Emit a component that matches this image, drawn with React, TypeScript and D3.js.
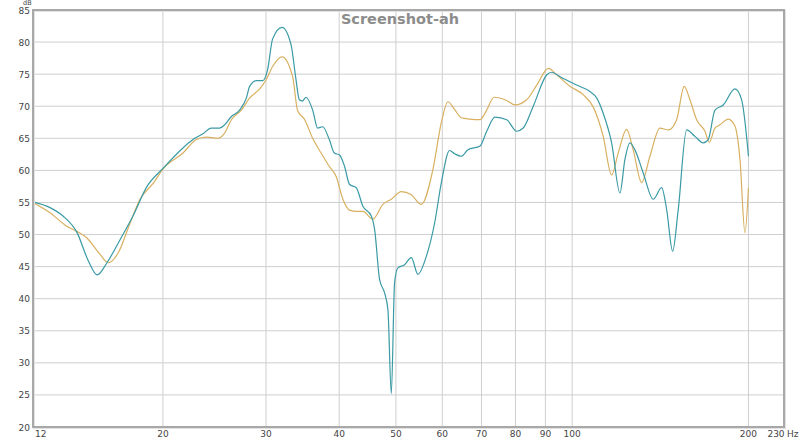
import React from "react";
import * as d3 from "d3";

const W = 800;
const H = 441;

const yTicks = [20, 25, 30, 35, 40, 45, 50, 55, 60, 65, 70, 75, 80, 85];
const xGrid = [20, 30, 40, 50, 60, 70, 80, 90, 100, 200];
const xLabels = ["12", "20", "30", "40", "50", "60", "70", "80", "90", "100", "200", "230"];
const xLabelValues = [12, 20, 30, 40, 50, 60, 70, 80, 90, 100, 200, 230];

const tealFreq = [
  12.0, 12.83, 13.5, 14.27, 14.9, 15.44, 16.05, 16.9, 17.78, 18.79, 20.0,
  21.64, 22.51, 23.41, 24.19, 25.0, 25.49, 26.18, 27.04, 27.77, 28.13, 28.88, 29.64,
  30.19, 30.79, 31.95, 33.1, 33.76, 34.2, 34.61, 35.11, 36.04, 36.75, 37.48, 38.48, 39.25,
  40.06, 40.86, 41.67, 42.78, 43.91, 45.38, 45.98, 46.89, 47.82, 48.45, 49.1,
  49.74, 50.39, 51.74, 53.12, 54.52, 56.35, 58.22, 59.76, 61.75, 62.97, 64.66, 66.36, 69.6,
  71.45, 73.82, 77.3, 80.38, 82.49, 85.8, 90.5, 92.3, 95.36, 101.75, 107.2, 110.1,
  112.97, 116.77, 120.65, 123.04, 125.48, 127.98, 132.22, 137.53, 142.15, 144.98, 148.44,
  151.74, 156.83, 162.04, 167.43, 170.75, 175.31, 181.12, 189.65, 194.72, 200.0,
];
const tealDb = [
  55.1, 54.2, 52.9, 50.3, 46.0, 43.7, 45.6, 49.2, 52.9, 57.5, 60.3,
  63.5, 64.8, 65.7, 66.6, 66.6, 67.1, 68.4, 69.4, 71.3, 73.1, 74.0, 74.0,
  75.7, 80.5, 82.3, 79.6, 74.1, 71.0, 70.8, 71.4, 69.4, 66.6, 66.8, 64.8, 62.7,
  62.4, 60.6, 57.8, 57.3, 54.4, 52.9, 50.8, 43.0, 40.9, 38.3, 25.2,
  42.5, 44.8, 45.3, 46.4, 43.8, 46.6, 51.8, 58.0, 63.1, 62.6, 62.2, 63.2, 63.8,
  66.1, 68.3, 67.9, 66.1, 66.6, 70.0, 74.9, 75.3, 74.6, 73.3, 72.3, 71.3,
  68.9, 64.3, 56.5, 61.7, 64.3, 63.2, 59.6, 55.5, 57.3, 53.9, 47.4,
  53.9, 66.3, 65.3, 64.3, 64.8, 69.4, 70.2, 72.7, 71.0, 62.2,
];

const goldFreq = [
  12.0, 12.83, 13.7, 14.25, 14.82, 15.62, 16.14, 16.79, 17.58, 18.28, 19.26, 20.0,
  21.64, 22.81, 23.72, 24.83, 25.49, 26.18, 27.23, 28.13, 29.26, 30.0, 30.79, 31.95,
  33.31, 33.97, 34.88, 36.04, 37.25, 38.48, 39.51, 40.59, 41.67, 42.78, 43.91, 45.67,
  47.5, 49.1, 51.07, 53.12, 55.26, 57.82, 59.76, 61.34, 62.97, 64.66, 66.8, 69.6,
  71.45, 73.53, 77.3, 79.85, 83.6, 87.0, 91.07, 94.13, 99.1, 104.42, 108.6,
  112.97, 116.77, 119.84, 123.86, 127.12, 131.39, 135.76, 141.2, 145.89, 150.79,
  155.36, 158.89, 163.13, 168.55, 171.43, 175.31, 178.78, 184.74, 189.65, 193.44, 197.27, 200.0,
];
const goldDb = [
  55.0, 53.4, 51.3, 50.5, 49.5, 46.9, 45.6, 47.2, 51.8, 55.5, 58.0, 60.2,
  62.7, 64.8, 65.2, 65.0, 65.8, 67.9, 69.4, 71.3, 72.7, 74.1, 76.2, 77.7,
  74.6, 69.3, 68.0, 65.0, 62.7, 60.6, 59.1, 55.5, 53.8, 53.6, 53.6, 52.4,
  54.7, 55.5, 56.7, 56.2, 54.7, 60.1, 67.4, 70.7, 69.5, 68.2, 68.0, 67.9,
  69.4, 71.4, 70.9, 70.2, 71.0, 73.3, 75.9, 74.9, 73.1, 71.8, 69.9,
  65.3, 59.3, 62.7, 66.4, 63.2, 58.1, 62.2, 66.6, 66.3, 67.9,
  73.1, 71.0, 67.9, 66.1, 64.4, 66.6, 67.1, 68.0, 66.9, 61.7, 50.3, 57.3,
];

const PL = 33, PR = 784, PT = 10, PB = 427;

export default function App() {
  const x = d3.scaleLog().domain([12, 230]).range([PL, PR]);
  const y = d3.scaleLinear().domain([20, 85]).range([PB, PT]);
  const line = d3
    .line<[number, number]>()
    .x((d) => x(d[0]))
    .y((d) => y(d[1]))
    .curve(d3.curveMonotoneX);
  const teal = tealFreq.map((f, i) => [f, tealDb[i]] as [number, number]);
  const gold = goldFreq.map((f, i) => [f, goldDb[i]] as [number, number]);
  const font = "'DejaVu Sans', sans-serif";
  return (
    <svg
      width={W}
      height={H}
      style={{ position: "absolute", left: 0, top: 0, background: "#fff" }}
    >
      <defs>
        <clipPath id="plot">
          <rect x={PL} y={PT} width={PR - PL} height={PB - PT} />
        </clipPath>
      </defs>
      {yTicks.map((t) => (
        <line key={"h" + t} x1={PL} x2={PR} y1={y(t)} y2={y(t)} stroke="#cfcfcf" strokeWidth={1} />
      ))}
      {xGrid.map((t) => (
        <line key={"v" + t} x1={x(t)} x2={x(t)} y1={PT} y2={PB} stroke="#cfcfcf" strokeWidth={1} />
      ))}
      <text
        x={400}
        y={24}
        textAnchor="middle"
        fontFamily={font}
        fontWeight="bold"
        fontSize={14.5}
        fill="#8c8c8c"
      >
        Screenshot-ah
      </text>
      <g clipPath="url(#plot)" fill="none" strokeWidth={1.2}>
        <path d={line(gold) || ""} stroke="#d8b060" />
        <path d={line(teal) || ""} stroke="#3a9aa5" />
      </g>
      <rect x={PL + 1} y={PT + 1} width={PR - PL} height={PB - PT} fill="none" stroke="#e2e2e2" strokeWidth={2} />
      <rect x={PL} y={PT} width={PR - PL} height={PB - PT} fill="none" stroke="#a8a8a8" strokeWidth={2} />
      {yTicks.map((t) => (
        <text
          key={"yl" + t}
          x={30}
          y={t === 85 ? y(t) + 4 : y(t) + 3.5}
          textAnchor="end"
          fontFamily={font}
          fontSize={9}
          fill="#444"
        >
          {t}
        </text>
      ))}
      <text x={23} y={5} fontFamily={font} fontSize={6.5} fill="#444">
        dB
      </text>
      {xLabelValues.map((v, i) => (
        <text
          key={"xl" + v}
          x={i === 0 ? x(v) + 2 : i === xLabelValues.length - 1 ? x(v) - 8 : x(v)}
          y={437}
          textAnchor={i === 0 ? "start" : "middle"}
          fontFamily={font}
          fontSize={9}
          fill="#444"
        >
          {xLabels[i]}
        </text>
      ))}
      <text x={787} y={437} fontFamily={font} fontSize={9} fill="#444">
        Hz
      </text>
    </svg>
  );
}
